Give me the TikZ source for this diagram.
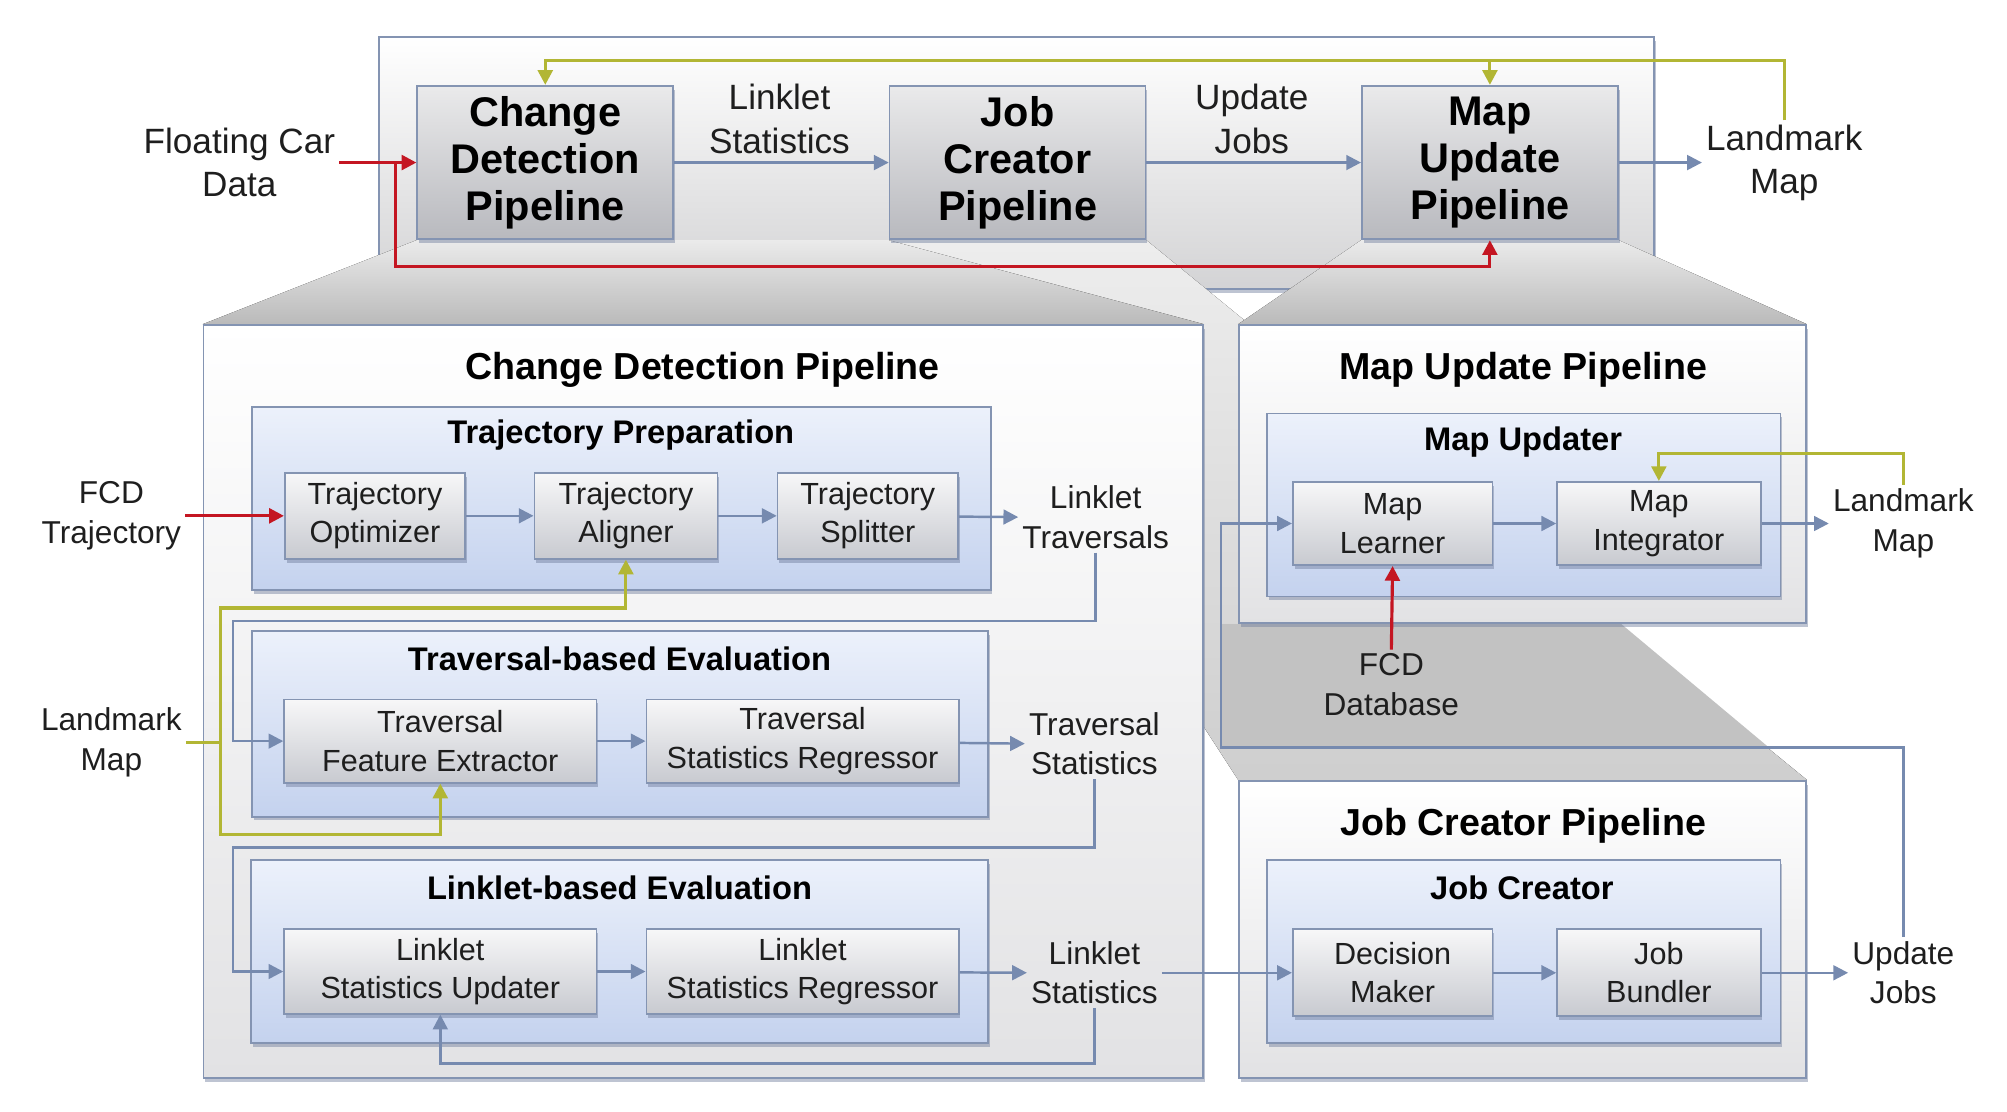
\documentclass[tikz,border=0pt]{standalone}
\usepackage{fontspec}
\setmainfont{Liberation Sans}
\usetikzlibrary{arrows.meta,shadows,fit}   %tips, box shadows and fitted frames.

\definecolor{cLine}{RGB}{132,148,178}
\definecolor{cFlow}{RGB}{118,138,175}
\definecolor{cRed}{RGB}{196,22,34}
\definecolor{cYel}{RGB}{178,182,52}
\definecolor{cText}{RGB}{30,30,30}
\definecolor{cBlueTop}{RGB}{236,241,251}
\definecolor{cBlueBot}{RGB}{196,210,238}
\definecolor{cUnitTop}{RGB}{247,247,248}
\definecolor{cUnitBot}{RGB}{200,202,208}
\definecolor{cStageTop}{RGB}{234,234,235}
\definecolor{cStageBot}{RGB}{184,185,190}
\definecolor{cPanelBot}{RGB}{226,226,228}
\definecolor{cShadow}{RGB}{110,124,155}

\pgfdeclarelayer{back}
\pgfdeclarelayer{proj}
\pgfsetlayers{back,proj,main}

\def\pxu{0.0128cm}   %one pixel of the layout.

\begin{document}
\begin{tikzpicture}[x=0.0128cm,y=-0.0128cm,
  tip/.style={-{Triangle[length=4.2pt,width=4.2pt]}},
  flow/.style={draw=cFlow,line width=0.7pt,tip},
  fcd/.style={draw=cRed,line width=0.9pt,tip},
  lmk/.style={draw=cYel,line width=0.9pt,tip},
  shade/.style={drop shadow={fill=cShadow,opacity=0.45,shadow xshift=0.5pt,shadow yshift=-1.1pt}},
  unit/.style={draw=cLine,line width=0.5pt,top color=cUnitTop,bottom color=cUnitBot,shade,
    align=center,inner sep=1pt,text=cText,font=\fontsize{8.7}{10.9}\selectfont},
  stage/.style={unit,top color=cStageTop,bottom color=cStageBot,text=black,
    minimum width=200*\pxu,minimum height=120*\pxu,font=\bfseries\fontsize{11.8}{13.3}\selectfont},
  panel/.style={draw=cLine,line width=0.5pt,top color=white,bottom color=cPanelBot,inner sep=0pt,shade},
  group/.style={draw=cLine,line width=0.5pt,top color=cBlueTop,bottom color=cBlueBot,inner sep=0pt,shade},
  head/.style={text=black,font=\bfseries\fontsize{10.7}{12}\selectfont},
  subhead/.style={text=black,font=\bfseries\fontsize{9.3}{11}\selectfont},
  lab/.style={align=center,inner sep=1pt,text=cText,font=\fontsize{10}{12.3}\selectfont},
  slab/.style={align=center,inner sep=1pt,text=cText,font=\fontsize{9}{11.25}\selectfont}]

\useasboundingbox (0,0) rectangle (1568,868);

% Overview frame
\begin{pgfonlayer}{back}
\node[panel,top color=white,bottom color=cPanelBot!85!gray,fit={(296,29) (1292,226)}] (frame) {};
\end{pgfonlayer}

% Overview pipelines
\node[stage] (cdp) at (426,127) {Change\\Detection\\Pipeline};
\node[stage] (jcp) at (795,127) {Job\\Creator\\Pipeline};
\node[stage] (mup) at (1164,127) {Map\\Update\\Pipeline};

\node[lab] (fcdata) at (187,127) {Floating Car\\Data};
\node[lab] (lstat) at (609,93) {Linklet\\Statistics};
\node[lab] (ujobs) at (978,93) {Update\\Jobs};
\node[lab] (lmap) at (1394,127) {Landmark\\Map};

% Define coordinates
\coordinate (redj) at (309,127);
\coordinate (redlow) at (309,208);
\coordinate (ybar) at (0,47);

\draw[flow] (cdp.east) -- (jcp.west);
\draw[flow] (jcp.east) -- (mup.west);
\draw[flow] (mup.east) -- (lmap.west);
\draw[fcd] (fcdata.east) -- (cdp.west);
\draw[fcd] (redj) -- (redlow) -| (mup.south);
\draw[lmk] (lmap.north) -- (lmap.north |- ybar) -| (cdp.north);
\draw[lmk] (mup.north |- ybar) -- (mup.north);

% CHANGE DETECTION PIPELINE
\node[panel,fit={(159,254) (940,842)}] (cdbox) {};
\node[head] (cdtitle) at (549,289) {Change Detection Pipeline};

\node[group,fit={(197,318) (774,461)}] (tprep) {};
\node[subhead] (tpreptitle) at (485,340) {Trajectory Preparation};
\node[unit,minimum width=141*\pxu,minimum height=67*\pxu] (topt) at (293,403) {Trajectory\\Optimizer};
\node[unit,minimum width=143*\pxu,minimum height=67*\pxu] (talign) at (489,403) {Trajectory\\Aligner};
\node[unit,minimum width=141*\pxu,minimum height=67*\pxu] (tsplit) at (678,403) {Trajectory\\Splitter};

\node[group,fit={(197,493) (772,638)}] (tbe) {};
\node[subhead] (tbetitle) at (484,515) {Traversal-based Evaluation};
\node[unit,minimum width=244*\pxu,minimum height=65*\pxu] (tfext) at (344,579) {Traversal\\Feature Extractor};
\node[unit,minimum width=244*\pxu,minimum height=65*\pxu] (tsreg) at (627,579) {Traversal\\Statistics Regressor};

\node[group,fit={(196,672) (772,815)}] (lbe) {};
\node[subhead] (lbetitle) at (484,694) {Linklet-based Evaluation};
\node[unit,minimum width=244*\pxu,minimum height=66*\pxu] (lsupd) at (344,759) {Linklet\\Statistics Updater};
\node[unit,minimum width=244*\pxu,minimum height=66*\pxu] (lsreg) at (627,759) {Linklet\\Statistics Regressor};

\node[slab] (fcdtraj) at (87,403) {FCD\\Trajectory};
\node[slab] (lmap2) at (87,580) {Landmark\\Map};
\node[slab] (ltrav) at (856,404) {Linklet\\Traversals};
\node[slab] (tstat) at (855,581) {Traversal\\Statistics};
\node[slab] (lstat2) at (855,760) {Linklet\\Statistics};

\coordinate (tloop) at (182,485);
\coordinate (lloop) at (182,662);
\coordinate (lback) at (0,831);
\coordinate (yhi) at (172,475);
\coordinate (ylo) at (172,652);

\draw[fcd] (fcdtraj.east) -- (topt.west);
\draw[flow] (topt) -- (talign);
\draw[flow] (talign) -- (tsplit);
\draw[flow] (tsplit) -- (ltrav.west);
\draw[flow] (tfext) -- (tsreg);
\draw[flow] (tsreg) -- (tstat.west);
\draw[flow] (lsupd) -- (lsreg);
\draw[flow] (lsreg) -- (lstat2.west);
\draw[flow] (ltrav.south) |- (tloop) |- (tfext.west);
\draw[flow] (tstat.south) |- (lloop) |- (lsupd.west);
\draw[flow] (lstat2.south) -- (lstat2.south |- lback) -| (lsupd.south);
\draw[lmk] (lmap2.east -| yhi) -- (yhi) -| (talign.south);
\draw[lmk] (lmap2.east) -- (lmap2.east -| ylo) -- (ylo) -| (tfext.south);

% MAP UPDATE PIPELINE
\node[panel,fit={(968,254) (1411,487)}] (mubox) {};
\node[head] (mutitle) at (1190,289) {Map Update Pipeline};
\node[group,fit={(990,323) (1391,466)}] (mupd) {};
\node[subhead] (mupdtitle) at (1190,345) {Map Updater};
\node[unit,minimum width=156*\pxu,minimum height=65*\pxu] (mlearn) at (1088,409) {Map\\Learner};
\node[unit,minimum width=159*\pxu,minimum height=65*\pxu] (minteg) at (1296,409) {Map\\Integrator};
\node[slab] (lmap3) at (1487,409) {Landmark\\Map};
\node[slab] (fcddb) at (1087,535) {FCD\\Database};

\coordinate (ymu) at (0,354);
\coordinate (uj) at (954,584);

\draw[flow] (mlearn) -- (minteg);
\draw[flow] (minteg) -- (lmap3.west);
\draw[lmk] (lmap3.north) -- (lmap3.north |- ymu) -| (minteg.north);
\draw[fcd] (fcddb.north) -- (mlearn.south);

% JOB CREATOR PIPELINE
\node[panel,fit={(968,610) (1411,842)}] (jcbox) {};
\node[head] (jctitle) at (1190,645) {Job Creator Pipeline};
\node[group,fit={(990,672) (1391,815)}] (jcre) {};
\node[subhead] (jcretitle) at (1189,694) {Job Creator};
\node[unit,minimum width=156*\pxu,minimum height=68*\pxu] (dmak) at (1088,760) {Decision\\Maker};
\node[unit,minimum width=159*\pxu,minimum height=68*\pxu] (jbund) at (1296,760) {Job\\Bundler};
\node[slab] (ujobs2) at (1487,760) {Update\\Jobs};

\draw[flow] (lstat2.east) -- (dmak.west);
\draw[flow] (dmak) -- (jbund);
\draw[flow] (jbund) -- (ujobs2.west);
\draw[flow] (ujobs2.north) |- (uj) |- (mlearn.west);

% Zoom projections
\begin{pgfonlayer}{proj}
\fill[top color=black!7,bottom color=black!19] (jcp.south west) -- (jcp.south east) -- (jcbox.north east) -- (jcbox.north west) -- cycle;
\fill[black!24] (uj |- mubox.south) -- (1266,487) -- (1382,584) -- (uj) -- cycle;
\fill[top color=black!8,bottom color=black!27] (cdp.south west) -- (jcp.south west) -- (cdbox.north east) -- (cdbox.north west) -- cycle;
\fill[top color=black!8,bottom color=black!27] (mup.south west) -- (mup.south east) -- (mubox.north east) -- (mubox.north west) -- cycle;
\end{pgfonlayer}

\end{tikzpicture}
\end{document}
